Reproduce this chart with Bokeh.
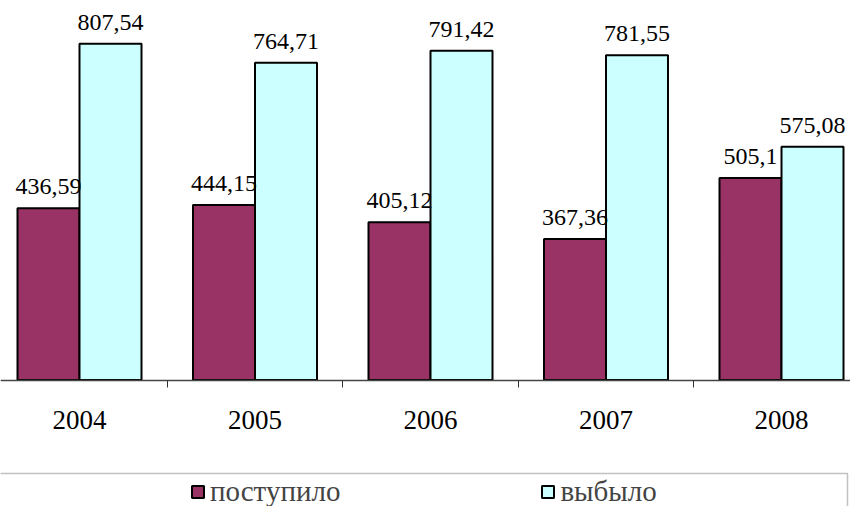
from bokeh.plotting import figure
from bokeh.models import (Range1d, LinearAxis, FixedTicker, ColumnDataSource,
                          Legend, LegendItem, BoxAnnotation)
from bokeh.core.properties import value
from bokeh.embed import file_html
from bokeh.resources import INLINE

# ---- data ----
years = ["2004", "2005", "2006", "2007", "2008"]
postupilo = [436.59, 444.15, 405.12, 367.36, 505.1]
vybylo = [807.54, 764.71, 791.42, 781.55, 575.08]
series_names = ["поступило", "выбыло"]

# ---- geometry (layout constants) ----
W, H = 850, 506
cat_px = 175.5           # px per category
c0_px = 79.0             # canvas px of first category centre
bar_px = 62.0
axis_val = 50.0          # value where the category axis sits
k = 0.444                # px per unit
axis_px = 379.5          # canvas px of axis line

x_start = -c0_px / cat_px
x_end = (W - c0_px) / cat_px
y_end = axis_val + axis_px / k
y_start = axis_val - (H - axis_px) / k

bw = bar_px / cat_px
xs = list(range(len(years)))

def fmt(v):
    return repr(v).replace(".", ",")

src = ColumnDataSource(dict(
    x1=[x - bw / 2 for x in xs],
    x2=[x + bw / 2 for x in xs],
    p=postupilo, v=vybylo,
    pl=[fmt(a) for a in postupilo],
    vl=[fmt(a) for a in vybylo],
))

p = figure(width=W, height=H, output_backend="svg", toolbar_location=None,
           x_range=Range1d(x_start, x_end), y_range=Range1d(y_start, y_end),
           x_axis_type=None, y_axis_type=None, min_border=0)
p.outline_line_color = None
p.xgrid.visible = False
p.ygrid.visible = False
p.background_fill_color = "white"

r1 = p.vbar(x="x1", top="p", bottom=axis_val, width=bw, source=src,
            fill_color="#993366", line_color="black", line_width=2)
r2 = p.vbar(x="x2", top="v", bottom=axis_val, width=bw, source=src,
            fill_color="#CCFFFF", line_color="black", line_width=2)

lab_font = value("Liberation Serif")
p.text(x="x1", y="p", text="pl", source=src, text_font=lab_font,
       text_font_size="24px", text_align="center", text_baseline="bottom",
       y_offset=-14, text_color="black")
p.text(x="x2", y="v", text="vl", source=src, text_font=lab_font,
       text_font_size="24px", text_align="center", text_baseline="bottom",
       y_offset=-14, text_color="black")

ax = LinearAxis(fixed_location=axis_val)
ax.ticker = FixedTicker(ticks=xs, minor_ticks=[x + 0.5 for x in xs[:-1]])
ax.major_label_overrides = {x: y for x, y in zip(xs, years)}
ax.major_tick_out = 0
ax.major_tick_in = 0
ax.minor_tick_out = 7
ax.minor_tick_in = 0
ax.minor_tick_line_color = "#333333"
ax.axis_line_color = "#444444"
ax.axis_line_width = 1.5
ax.major_label_standoff = 24
ax.major_label_text_font = "Liberation Serif"
ax.major_label_text_font_size = "27px"
ax.major_label_text_color = "black"
p.add_layout(ax, "below")

# legend frame
box = BoxAnnotation(left=x_start - 1, right=(847 - c0_px) / cat_px,
                    top=axis_val - (473 - axis_px) / k, bottom=y_start - 100,
                    fill_alpha=0, line_color="#333333", line_width=1.5)
p.add_layout(box)

legend = Legend(items=[LegendItem(label=series_names[0], renderers=[r1]),
                       LegendItem(label=series_names[1], renderers=[r2])],
                orientation="horizontal", location=(190, -2),
                label_text_font="Liberation Serif", label_text_font_size="29px",
                glyph_width=15, glyph_height=15, label_standoff=5,
                spacing=200, padding=0, margin=0,
                border_line_color=None, background_fill_alpha=0)
p.add_layout(legend, "center")

open("out.html", "w").write(file_html(p, INLINE))
